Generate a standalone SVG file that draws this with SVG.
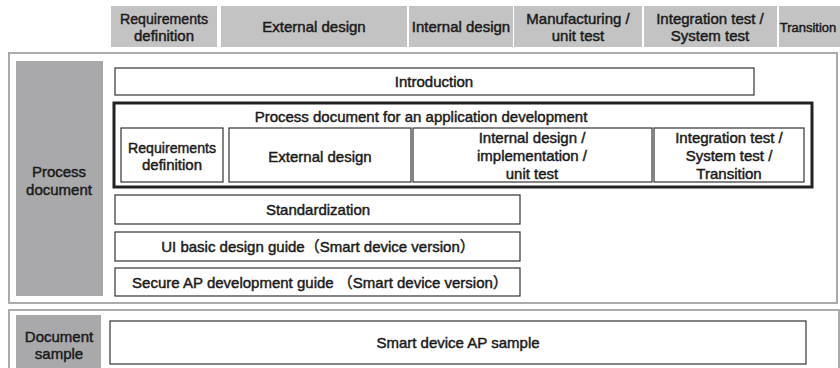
<svg xmlns="http://www.w3.org/2000/svg" width="840" height="368" viewBox="0 0 840 368">
<style>
text{font-family:"Liberation Sans","Noto Sans CJK JP",Arial,sans-serif;font-size:15px;fill:#1a1a1a;stroke:#1a1a1a;stroke-width:0.45;text-anchor:middle}
.hdr{fill:#c3c3c3}
.side{fill:#a9a9ab}
.frame{fill:#fff;stroke:#ababab;stroke-width:2}
.box{fill:#fff;stroke:#333;stroke-width:1.2}
.thick{fill:#fff;stroke:#222;stroke-width:3}
</style>
<rect width="840" height="368" fill="#fff"/>
<g id="header">
<g id="h-req"><rect class="hdr" x="111" y="6" width="106" height="41"/><text x="164" y="24" textLength="88" lengthAdjust="spacingAndGlyphs">Requirements</text><text x="164" y="41">definition</text></g>
<g id="h-ext"><rect class="hdr" x="221" y="6" width="186" height="41"/><text x="314" y="32">External design</text></g>
<g id="h-int"><rect class="hdr" x="409" y="6" width="104" height="41"/><text x="461" y="32">Internal design</text></g>
<g id="h-man"><rect class="hdr" x="514" y="6" width="128" height="41"/><text x="578" y="24">Manufacturing /</text><text x="578" y="41">unit test</text></g>
<g id="h-integ"><rect class="hdr" x="644" y="6" width="133" height="41"/><text x="710" y="24">Integration test /</text><text x="710" y="41">System test</text></g>
<g id="h-trans"><rect class="hdr" x="779" y="6" width="61" height="41"/><text x="808" y="32" style="font-size:13px">Transition</text></g>
</g>
<g id="process-document">
<rect class="frame" x="9" y="53" width="828" height="250"/>
<rect class="side" x="16" y="61" width="87" height="235"/>
<text x="59" y="177">Process</text><text x="59" y="195">document</text>
</g>
<g id="introduction"><rect class="box" x="115" y="68" width="639" height="27"/><text x="434" y="87">Introduction</text></g>
<g id="process-app">
<rect class="thick" x="114" y="103" width="698" height="84"/>
<text x="421" y="122">Process document for an application development</text>
<g id="p-req"><rect class="box" x="121" y="128" width="102" height="54"/><text x="172" y="153" textLength="88" lengthAdjust="spacingAndGlyphs">Requirements</text><text x="172" y="170">definition</text></g>
<g id="p-ext"><rect class="box" x="229" y="128" width="182" height="54"/><text x="320" y="162">External design</text></g>
<g id="p-int"><rect class="box" x="413" y="128" width="239" height="54"/><text x="532" y="143">Internal design /</text><text x="532" y="161">implementation /</text><text x="532" y="179">unit test</text></g>
<g id="p-integ"><rect class="box" x="654" y="128" width="150" height="54"/><text x="729" y="143">Integration test /</text><text x="729" y="161">System test /</text><text x="729" y="179">Transition</text></g>
</g>
<g id="standardization"><rect class="box" x="115" y="195" width="405" height="29"/><text x="318" y="215">Standardization</text></g>
<g id="ui-guide"><rect class="box" x="115" y="232" width="405" height="29"/><text x="318" y="252">UI basic design guide（Smart device version）</text></g>
<g id="secure-guide"><rect class="box" x="115" y="268" width="405" height="28"/><text x="320" y="288">Secure AP development guide （Smart device version）</text></g>
<g id="document-sample">
<rect class="frame" x="9" y="310" width="830" height="62"/>
<rect class="side" x="16" y="315" width="85" height="53"/>
<text x="59" y="342">Document</text><text x="59" y="359">sample</text>
</g>
<g id="smart-sample"><rect class="box" x="110" y="321" width="696" height="43"/><text x="458" y="348">Smart device AP sample</text></g>
<g id="connectors"></g>
</svg>
